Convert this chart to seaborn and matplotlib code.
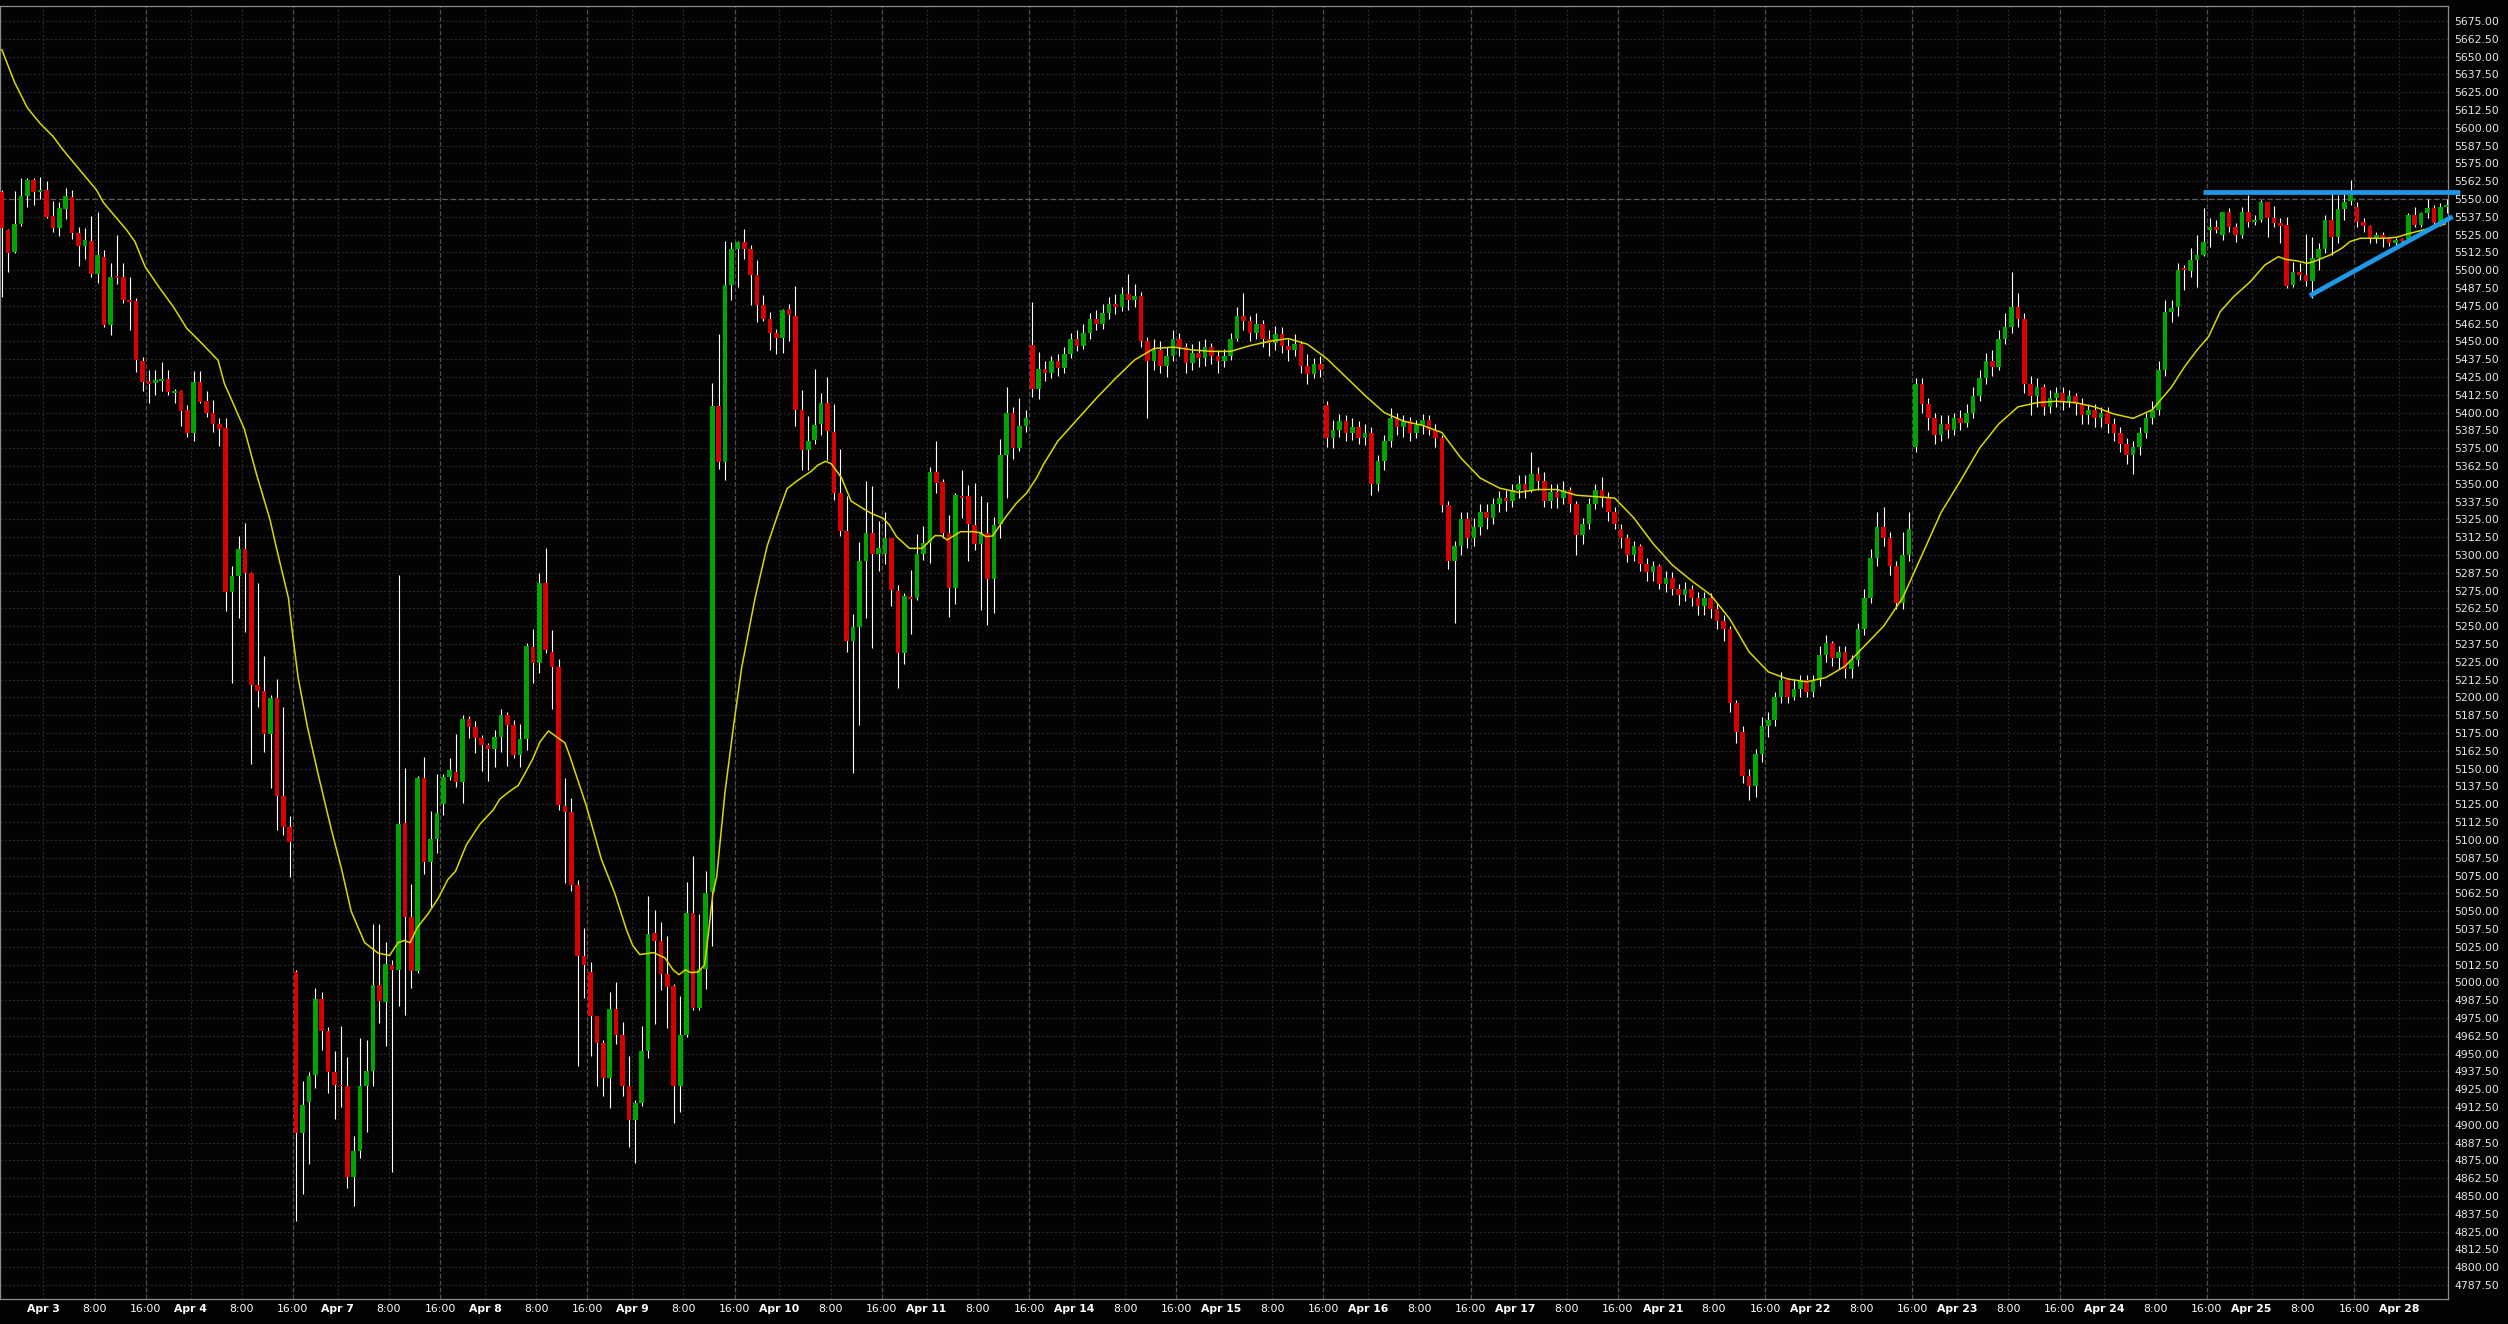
import numpy as np
import pandas as pd
import seaborn as sns
import matplotlib
matplotlib.use("Agg")
import matplotlib.pyplot as plt

# =============================
# DADOS (candles de 1 hora, CT)
# =============================

# bloco 1: primeiro candle = Apr 2 17:00 (candles 0..162)
o1 = [5555.2, 5528.3, 5513.0, 5532.7, 5552.3, 5563.4, 5555.2, 5556.3, 5538.1, 5529.9,
      5543.2, 5551.2, 5525.9, 5517.2, 5520.5, 5497.6, 5509.3, 5461.5, 5495.9, 5495.2,
      5479.1, 5478.4, 5436.3, 5422.2, 5420.8, 5422.4, 5423.6, 5414.0, 5415.2, 5401.9,
      5385.9, 5421.5, 5408.2, 5399.8, 5392.0, 5389.3, 5274.4, 5285.5, 5304.1, 5287.5,
      5209.0, 5204.3, 5174.6, 5199.5, 5131.0, 5109.2, 5007.3, 4894.0, 4915.8, 4934.8,
      4988.3, 4965.7, 4936.8, 4928.0, 4926.9, 4863.5, 4881.3, 4926.9, 4937.6, 4998.2,
      4986.4, 5012.2, 5008.4, 5111.9, 5045.8, 5007.8, 5143.6, 5084.7, 5100.5, 5125.2,
      5144.4, 5148.0, 5140.8, 5184.6, 5179.6, 5171.6, 5166.9, 5164.1, 5172.1, 5187.7,
      5180.8, 5159.7, 5170.8, 5235.5, 5224.4, 5280.4, 5231.6, 5221.7, 5123.8, 5119.3,
      5068.5, 5018.6, 5007.3, 4976.3, 4957.1, 4932.6, 4981.4, 4963.0, 4927.5, 4903.5,
      4915.6, 4951.7, 5034.7, 5029.3, 5005.9, 4997.5, 4926.9, 4963.0, 5048.8, 4982.0,
      5009.3, 5063.7, 5404.3, 5365.2, 5489.9, 5515.0, 5519.6, 5515.0, 5496.8, 5475.9,
      5465.4, 5455.6, 5452.1, 5472.4, 5467.9, 5401.8, 5373.5, 5380.8, 5392.0, 5406.7,
      5386.1, 5343.8, 5317.0, 5239.4, 5249.5, 5296.0, 5315.2, 5300.5, 5300.8, 5312.2,
      5274.8, 5231.0, 5270.6, 5270.1, 5300.8, 5308.2, 5358.1, 5351.1, 5315.3, 5276.6,
      5341.5, 5341.5, 5321.1, 5307.8, 5315.3, 5283.2, 5321.8, 5370.3, 5399.5, 5375.4,
      5390.6, 5447.5, 5416.6]
h1 = [5556.3, 5528.9, 5555.6, 5564.5, 5564.5, 5564.5, 5565.7, 5562.6, 5548.6, 5548.1,
      5558.0, 5556.3, 5530.6, 5529.4, 5538.1, 5540.9, 5514.2, 5504.8, 5524.7, 5504.8,
      5495.0, 5480.5, 5438.8, 5429.9, 5429.9, 5435.6, 5429.9, 5416.4, 5415.9, 5405.4,
      5429.2, 5429.2, 5415.2, 5408.9, 5396.3, 5396.4, 5292.2, 5313.2, 5322.4, 5288.0,
      5280.4, 5228.8, 5201.5, 5213.0, 5193.2, 5116.7, 5008.9, 4930.9, 4936.8, 4996.2,
      4993.5, 4968.5, 4951.9, 4969.3, 4947.9, 4892.4, 4960.6, 4959.8, 5041.0, 5041.0,
      5028.6, 5015.6, 5286.0, 5150.2, 5068.9, 5145.2, 5158.5, 5120.2, 5146.0, 5146.0,
      5157.7, 5174.4, 5187.4, 5186.9, 5183.5, 5173.5, 5168.3, 5177.2, 5191.6, 5189.6,
      5184.1, 5181.3, 5238.2, 5248.0, 5287.4, 5304.9, 5247.1, 5226.8, 5143.6, 5129.5,
      5072.2, 5038.4, 5014.4, 4976.3, 4959.4, 4993.2, 5000.3, 4972.1, 4948.6, 4917.6,
      4969.2, 5060.9, 5051.1, 5042.6, 5032.7, 4998.9, 4990.4, 5070.8, 5088.6, 5048.2,
      5077.9, 5420.7, 5454.9, 5520.6, 5519.6, 5520.6, 5529.0, 5517.8, 5507.3, 5482.9,
      5470.6, 5458.4, 5472.4, 5476.6, 5488.8, 5415.8, 5397.3, 5430.5, 5413.7, 5425.2,
      5406.0, 5374.6, 5341.4, 5258.6, 5309.2, 5351.9, 5348.4, 5323.9, 5330.2, 5312.2,
      5279.0, 5273.6, 5289.5, 5314.8, 5320.4, 5362.1, 5380.1, 5353.4, 5328.1, 5343.3,
      5359.7, 5349.2, 5350.4, 5341.5, 5337.5, 5326.5, 5381.3, 5417.8, 5403.7, 5410.1,
      5401.9, 5477.9, 5442.8]
l1 = [5481.4, 5499.0, 5512.3, 5531.1, 5544.6, 5545.8, 5550.0, 5536.4, 5527.1, 5524.0,
      5536.0, 5521.9, 5502.9, 5507.9, 5495.5, 5491.3, 5460.4, 5454.5, 5490.3, 5477.2,
      5458.0, 5428.8, 5415.2, 5407.0, 5412.4, 5415.4, 5412.4, 5406.5, 5390.6, 5383.1,
      5380.3, 5407.0, 5397.2, 5386.6, 5376.8, 5260.9, 5210.2, 5255.8, 5245.9, 5153.6,
      5193.2, 5161.9, 5136.1, 5107.2, 5103.2, 5074.3, 4832.6, 4851.6, 4872.2, 4925.7,
      4952.7, 4922.2, 4903.9, 4912.2, 4855.6, 4842.9, 4876.6, 4895.2, 4926.9, 4971.3,
      4955.0, 4866.8, 4983.4, 4977.3, 4996.1, 5006.4, 5075.8, 5052.8, 5091.1, 5117.5,
      5141.9, 5136.9, 5125.8, 5171.6, 5161.3, 5148.5, 5141.1, 5151.3, 5161.9, 5152.2,
      5157.7, 5151.3, 5163.3, 5210.5, 5217.4, 5231.3, 5192.1, 5120.7, 5069.4, 5064.3,
      4941.0, 4989.0, 4948.6, 4926.9, 4919.9, 4912.0, 4956.5, 4919.9, 4884.6, 4873.3,
      4913.4, 4947.2, 4970.7, 4994.6, 4967.8, 4901.5, 4909.2, 4961.6, 4980.5, 4980.5,
      4995.2, 5025.2, 5360.6, 5352.6, 5479.4, 5488.1, 5508.0, 5475.9, 5463.7, 5464.0,
      5443.8, 5441.0, 5442.0, 5450.4, 5390.3, 5359.9, 5359.9, 5378.1, 5384.4, 5366.9,
      5338.6, 5313.4, 5232.0, 5146.8, 5180.7, 5255.8, 5234.9, 5289.0, 5293.7, 5264.5,
      5206.9, 5223.3, 5244.3, 5268.5, 5296.5, 5294.2, 5343.8, 5311.8, 5256.8, 5265.6,
      5325.8, 5295.8, 5303.6, 5261.4, 5250.9, 5259.6, 5312.2, 5339.8, 5367.5, 5373.1,
      5386.6, 5411.2, 5409.6]
c1 = [5529.4, 5512.3, 5532.5, 5552.1, 5563.4, 5555.2, 5556.3, 5537.6, 5529.9, 5543.7,
      5552.1, 5526.4, 5517.2, 5521.2, 5497.6, 5510.7, 5461.5, 5495.2, 5494.8, 5479.3,
      5477.9, 5437.2, 5421.7, 5420.3, 5423.2, 5423.6, 5414.5, 5415.4, 5401.2, 5385.9,
      5421.5, 5407.5, 5399.8, 5392.0, 5388.5, 5274.4, 5285.5, 5304.1, 5287.5, 5209.0,
      5204.3, 5174.6, 5199.5, 5131.0, 5109.2, 5098.5, 4894.4, 4914.2, 4934.0, 4988.3,
      4965.7, 4936.8, 4927.7, 4926.9, 4863.5, 4881.3, 4926.9, 4937.6, 4998.2, 4987.1,
      5012.8, 5008.4, 5111.1, 5045.8, 5007.8, 5143.6, 5084.7, 5100.5, 5118.9, 5144.4,
      5149.1, 5140.8, 5184.6, 5179.6, 5171.6, 5166.6, 5164.1, 5172.1, 5187.7, 5180.8,
      5159.7, 5170.8, 5236.0, 5224.4, 5280.4, 5233.0, 5221.7, 5124.4, 5119.3, 5068.5,
      5018.6, 5012.4, 4976.3, 4957.1, 4932.6, 4981.4, 4963.0, 4927.5, 4903.5, 4915.6,
      4951.7, 5033.6, 5029.3, 5005.9, 4996.6, 4926.9, 4963.0, 5048.8, 4982.0, 5009.3,
      5062.9, 5404.3, 5365.2, 5489.9, 5515.0, 5519.6, 5515.0, 5496.8, 5475.9, 5465.4,
      5455.6, 5452.1, 5471.7, 5468.2, 5401.8, 5373.5, 5379.8, 5391.3, 5406.7, 5386.8,
      5343.8, 5317.0, 5239.4, 5249.5, 5296.0, 5315.2, 5300.5, 5304.7, 5312.2, 5275.5,
      5231.5, 5271.3, 5269.4, 5300.5, 5308.2, 5358.1, 5350.8, 5315.7, 5277.1, 5342.2,
      5340.3, 5321.8, 5307.8, 5315.3, 5283.2, 5321.1, 5370.3, 5399.5, 5375.4, 5390.6,
      5396.5, 5416.4, 5430.7]

# bloco do meio: candles 163..337 (Apr 11 ~10:00 -> Apr 24 ~10:00)
o_meio = [5430.7, 5427.6, 5436, 5431, 5441, 5452, 5447, 5456, 5466, 5462,
          5470, 5476, 5474, 5483, 5479, 5482, 5450, 5436, 5444, 5433,
          5440, 5452, 5446, 5435, 5442, 5438, 5446, 5440, 5436, 5440,
          5452, 5468, 5464, 5456, 5462, 5452, 5449, 5455, 5447, 5444,
          5448, 5433, 5427, 5434, 5405, 5382, 5388, 5394, 5386, 5390,
          5382, 5386, 5350, 5366, 5380, 5396, 5390, 5394, 5386, 5391,
          5395, 5388, 5382, 5335, 5296, 5306, 5325, 5312, 5320, 5330,
          5326, 5336, 5340, 5338, 5346, 5350, 5346, 5357, 5352, 5338,
          5344, 5340, 5346, 5336, 5314, 5322, 5336, 5346, 5340, 5330,
          5318, 5312, 5300, 5306, 5294, 5288, 5292, 5280, 5284, 5276,
          5272, 5276, 5270, 5264, 5270, 5262, 5254, 5248, 5196, 5176,
          5145, 5138, 5160, 5180, 5184, 5200, 5212, 5200, 5206, 5212,
          5204, 5212, 5230, 5238, 5228, 5232, 5220, 5226, 5248, 5270,
          5298, 5320, 5312, 5292, 5266, 5300, 5376, 5420, 5406, 5396,
          5384, 5392, 5388, 5396, 5393, 5400, 5412, 5424, 5436, 5432,
          5452, 5460, 5474, 5466, 5420, 5412, 5418, 5404, 5410, 5414,
          5408, 5412, 5406, 5398, 5402, 5396, 5400, 5392, 5386, 5378,
          5370, 5376, 5386, 5396, 5402]
h_meio = [5436, 5440, 5441, 5446, 5456, 5458, 5462, 5470, 5472, 5476,
          5481, 5483, 5488, 5497, 5490, 5485, 5453, 5452, 5450, 5446,
          5458, 5456, 5449, 5448, 5450, 5452, 5449, 5444, 5445, 5456,
          5474, 5484, 5468, 5470, 5465, 5458, 5461, 5460, 5452, 5455,
          5450, 5441, 5438, 5440, 5408, 5395, 5399, 5398, 5396, 5394,
          5392, 5390, 5370, 5384, 5403, 5400, 5398, 5397, 5395, 5399,
          5398, 5392, 5384, 5338, 5310, 5330, 5330, 5326, 5336, 5336,
          5340, 5345, 5346, 5350, 5356, 5356, 5372, 5362, 5358, 5350,
          5350, 5352, 5348, 5338, 5326, 5340, 5350, 5355, 5344, 5334,
          5322, 5315, 5310, 5308, 5298, 5296, 5294, 5289, 5288, 5280,
          5281, 5279, 5274, 5274, 5273, 5266, 5258, 5250, 5198, 5180,
          5150, 5164, 5186, 5190, 5204, 5218, 5214, 5212, 5216, 5216,
          5216, 5236, 5244, 5240, 5236, 5236, 5230, 5252, 5276, 5304,
          5330, 5334, 5316, 5296, 5316, 5330, 5424, 5424, 5410, 5400,
          5398, 5398, 5400, 5402, 5406, 5418, 5430, 5442, 5444, 5458,
          5470, 5499, 5484, 5470, 5426, 5424, 5420, 5416, 5418, 5418,
          5416, 5414, 5410, 5406, 5406, 5404, 5404, 5396, 5390, 5382,
          5380, 5390, 5400, 5408, 5436]
l_meio = [5422, 5424, 5426, 5428, 5438, 5443, 5445, 5452, 5458, 5459,
          5466, 5469, 5471, 5472, 5474, 5446, 5396, 5430, 5428, 5425,
          5436, 5440, 5428, 5430, 5432, 5433, 5434, 5428, 5432, 5437,
          5450, 5458, 5450, 5452, 5446, 5440, 5444, 5442, 5436, 5440,
          5428, 5420, 5424, 5425, 5376, 5375, 5383, 5380, 5381, 5378,
          5377, 5342, 5345, 5360, 5376, 5384, 5383, 5380, 5382, 5385,
          5384, 5376, 5330, 5290, 5252, 5300, 5305, 5306, 5314, 5318,
          5322, 5330, 5331, 5334, 5340, 5340, 5344, 5346, 5334, 5333,
          5333, 5336, 5330, 5300, 5308, 5318, 5332, 5334, 5324, 5318,
          5305, 5295, 5296, 5289, 5282, 5282, 5276, 5274, 5272, 5265,
          5268, 5264, 5258, 5258, 5256, 5248, 5240, 5190, 5168, 5140,
          5128, 5130, 5155, 5172, 5180, 5196, 5196, 5198, 5200, 5200,
          5200, 5208, 5225, 5222, 5220, 5214, 5214, 5222, 5244, 5266,
          5292, 5306, 5286, 5262, 5262, 5296, 5372, 5400, 5388, 5378,
          5380, 5382, 5384, 5388, 5390, 5396, 5408, 5420, 5426, 5430,
          5448, 5456, 5460, 5414, 5398, 5404, 5398, 5400, 5404, 5402,
          5404, 5398, 5392, 5392, 5390, 5390, 5386, 5380, 5372, 5364,
          5357, 5370, 5382, 5392, 5398]
c_meio = [5427.6, 5436, 5431, 5441, 5452, 5447, 5456, 5466, 5462, 5470,
          5476, 5474, 5483, 5479, 5482, 5450, 5436, 5444, 5433, 5440,
          5452, 5446, 5435, 5442, 5438, 5446, 5440, 5436, 5440, 5452,
          5468, 5464, 5456, 5462, 5452, 5449, 5455, 5447, 5444, 5448,
          5433, 5427, 5434, 5430, 5382, 5388, 5394, 5386, 5390, 5382,
          5386, 5350, 5366, 5380, 5396, 5390, 5394, 5386, 5391, 5395,
          5388, 5382, 5335, 5296, 5306, 5325, 5312, 5320, 5330, 5326,
          5336, 5340, 5338, 5346, 5350, 5346, 5357, 5352, 5338, 5344,
          5340, 5346, 5336, 5314, 5322, 5336, 5346, 5340, 5330, 5322,
          5312, 5300, 5306, 5294, 5288, 5292, 5280, 5284, 5276, 5272,
          5276, 5270, 5264, 5270, 5262, 5254, 5248, 5196, 5176, 5145,
          5138, 5160, 5180, 5184, 5200, 5212, 5200, 5206, 5212, 5204,
          5212, 5230, 5238, 5228, 5232, 5220, 5226, 5248, 5270, 5298,
          5320, 5312, 5292, 5266, 5300, 5318, 5420, 5406, 5396, 5384,
          5392, 5388, 5396, 5393, 5400, 5412, 5424, 5436, 5432, 5452,
          5460, 5474, 5466, 5420, 5412, 5418, 5404, 5410, 5414, 5408,
          5412, 5406, 5398, 5402, 5396, 5400, 5392, 5386, 5378, 5370,
          5376, 5386, 5396, 5402, 5430]

# bloco 2: candles 338..382 (Apr 24 ~11:00 -> Apr 28 07:00)
o2 = [5430.0, 5470.4, 5474.4, 5501.3, 5499.7, 5507.2, 5510.7, 5528.3, 5530.1, 5524.7,
      5541.1, 5530.1, 5524.7, 5541.1, 5534.1, 5535.3, 5548.1, 5536.9, 5532.9, 5531.8,
      5489.6, 5499.0, 5496.7, 5492.4, 5508.4, 5514.7, 5535.3, 5523.6, 5542.8, 5548.8,
      5544.6, 5534.1, 5531.1, 5522.4, 5524.7, 5522.4, 5518.9, 5521.7, 5521.7, 5538.8,
      5531.8, 5540.4, 5543.9, 5532.9, 5544.6]
h2 = [5479.1, 5479.1, 5504.8, 5503.6, 5515.4, 5524.7, 5543.5, 5536.4, 5535.3, 5541.1,
      5543.5, 5532.9, 5544.6, 5552.8, 5538.8, 5549.3, 5548.1, 5545.1, 5536.4, 5537.6,
      5506.0, 5504.8, 5525.4, 5523.1, 5519.4, 5538.8, 5554.0, 5552.8, 5554.0, 5563.4,
      5548.1, 5536.4, 5531.8, 5527.1, 5527.1, 5523.1, 5522.4, 5522.4, 5539.9, 5544.6,
      5541.1, 5549.8, 5545.8, 5547.4, 5549.8]
l2 = [5426.0, 5463.9, 5468.1, 5486.1, 5495.5, 5488.4, 5510.0, 5516.5, 5525.9, 5521.2,
      5527.1, 5520.1, 5522.4, 5530.6, 5531.8, 5534.1, 5523.1, 5530.1, 5519.4, 5487.3,
      5488.4, 5493.1, 5488.9, 5480.3, 5500.2, 5511.9, 5510.7, 5518.9, 5535.3, 5545.8,
      5530.1, 5527.1, 5519.4, 5518.9, 5516.5, 5517.0, 5517.7, 5520.1, 5520.8, 5530.1,
      5530.6, 5536.4, 5532.5, 5531.1, 5539.9]
c2 = [5470.4, 5473.2, 5500.2, 5500.2, 5507.2, 5510.7, 5519.8, 5530.1, 5528.3, 5541.1,
      5530.6, 5524.7, 5541.1, 5534.1, 5535.3, 5548.1, 5536.9, 5533.4, 5531.1, 5488.9,
      5499.0, 5496.7, 5492.4, 5508.4, 5514.7, 5535.3, 5523.6, 5542.8, 5548.1, 5552.8,
      5534.1, 5531.1, 5522.4, 5524.7, 5522.4, 5519.4, 5521.2, 5520.8, 5538.8, 5531.8,
      5540.4, 5543.5, 5533.4, 5544.6, 5545.8]

# media movel (indice do candle, valor)
ma_k = [0, 2, 4, 6, 8, 9.6, 14.8, 15.9, 19.5, 20.8, 22.4, 24.7, 26.8, 28.9, 31.5, 33.8,
        34.8, 35.9, 37.9, 39.8, 41.9, 42.9, 44.8, 45.4, 46.3, 47.8, 49.4, 51.5, 53.1,
        54.6, 56.7, 58.8, 60.6, 61.9, 62.9, 63.8, 64.9, 66.6, 68.2, 69.7, 70.9, 72.6,
        74.7, 76.8, 77.8, 79.1, 80.7, 82.0, 82.9, 84.1, 85.4, 88.0, 88.8, 91.3, 93.7,
        95.8, 97.6, 98.6, 99.7, 101.8, 103.6, 104.9, 105.8, 106.8, 107.7, 108.8, 109.8,
        110.4, 111.1, 111.7, 113.0, 114.3, 115.6, 117.7, 119.6, 121.3, 122.7, 124.2,
        126.5, 127.5, 128.7, 129.6, 131.2, 132.7, 134.3, 135.9, 137.0, 137.7, 138.7,
        139.8, 141.8, 143.8, 145.8, 146.8, 147.7, 149.8, 151.8, 152.8, 153.8, 154.8,
        156.9, 158.5, 160.1, 161.7, 162.7, 165, 168, 171, 174, 177, 180, 183, 186,
        189, 192, 195, 198, 201, 204, 207, 210, 213, 216, 219, 222, 225, 228, 231,
        234, 237, 240, 243, 246, 249, 252, 255, 258, 261, 264, 267, 270, 273, 276,
        279, 282, 285, 288, 291, 294, 297, 300, 303, 306, 309, 312, 315, 318, 321,
        324, 327, 330, 333, 336, 339, 341, 343.0, 344.8, 346.6, 348.7, 351.3, 353.6,
        355.7, 356.8, 358.6, 360.2, 361.2, 363.8, 365.6, 366.9, 368.5, 372.1, 374.2,
        375.3, 377.3, 379.4, 381.8]
ma_v = [5655, 5632, 5614, 5603, 5594, 5584.4, 5556.3, 5547.4, 5528.3, 5520.1, 5502.5,
        5487.3, 5474.4, 5459.2, 5447.5, 5436.7, 5420.2, 5409.1, 5388.5, 5356.8, 5325.1,
        5305.3, 5269.7, 5245.9, 5214.2, 5178.5, 5146.8, 5107.2, 5079.5, 5049.8, 5027.9,
        5020.5, 5018.9, 5027.8, 5029.4, 5027.8, 5038.3, 5048.1, 5059.1, 5072.2, 5078.0,
        5096.6, 5111.0, 5121.1, 5128.6, 5133.3, 5138.3, 5148.8, 5156.3, 5168.8, 5176.5,
        5168.1, 5158.3, 5124.4, 5086.3, 5062.3, 5037.0, 5025.7, 5019.5, 5020.9, 5017.2,
        5008.7, 5005.4, 5008.7, 5006.8, 5007.3, 5012.1, 5034.0, 5062.3, 5074.1, 5133.5,
        5178.9, 5220.9, 5269.8, 5306.5, 5329.2, 5346.6, 5351.9, 5358.9, 5363.1, 5365.8,
        5364.1, 5354.3, 5337.9, 5333.4, 5329.2, 5327.1, 5325.8, 5321.1, 5312.9, 5304.7,
        5304.7, 5313.6, 5313.6, 5310.6, 5316.4, 5316.4, 5315.7, 5312.9, 5313.4, 5327.0,
        5336.3, 5343.4, 5354.3, 5363.2, 5380, 5395, 5410, 5424, 5437, 5445, 5446, 5444,
        5443, 5443, 5447, 5450, 5452, 5448, 5438, 5425, 5412, 5400, 5394, 5391, 5386,
        5368, 5354, 5347, 5344, 5346, 5346, 5342, 5341, 5340, 5326, 5308, 5293, 5282,
        5272, 5255, 5232, 5218, 5213, 5211, 5214, 5222, 5236, 5250, 5270, 5300, 5330,
        5352, 5375, 5392, 5404, 5407, 5408, 5407, 5404, 5399, 5396, 5402, 5418, 5432,
        5444.0, 5453.4, 5470.9, 5481.4, 5491.9, 5503.7, 5509.5, 5507.6, 5506.5, 5504.8,
        5506.0, 5510.7, 5515.4, 5520.1, 5522.4, 5522.4, 5523.1, 5524.7, 5527.1, 5529.4,
        5532.5]

# linhas de tendencia desenhadas (azul)
resist_k = [343.9, 384.0]
resist_v = [5554.7, 5554.7]
suporte_k = [360.6, 382.9]
suporte_v = [5482.1, 5537.6]

dias = ["Apr 3", "Apr 4", "Apr 7", "Apr 8", "Apr 9", "Apr 10", "Apr 11", "Apr 14",
        "Apr 15", "Apr 16", "Apr 17", "Apr 21", "Apr 22", "Apr 23", "Apr 24", "Apr 25",
        "Apr 28"]
linha_preco = 5550.0

# =============================
# MONTANDO OS DADOS
# =============================

df = pd.DataFrame({
    "open": o1 + o_meio + o2,
    "high": h1 + h_meio + h2,
    "low": l1 + l_meio + l2,
    "close": c1 + c_meio + c2,
})
df["k"] = np.arange(len(df))
df["alta"] = df["close"] >= df["open"]
df["base"] = df[["open", "close"]].min(axis=1)
df["corpo"] = (df["close"] - df["open"]).abs().clip(lower=1.3)

ma = pd.DataFrame({"k": ma_k, "v": ma_v})

# =============================
# PLOT
# =============================

sns.set_theme(style="dark")
plt.rcParams["font.family"] = ["DejaVu Sans"]
plt.rcParams["lines.scale_dashes"] = False

fundo = "#030303"
fig = plt.figure(figsize=(25.08, 13.24), dpi=100, facecolor=fundo)
ax = fig.add_axes([0.0, 0.0189, 0.9761, 0.9766], facecolor=fundo)

# grade
y_ticks = np.arange(4787.5, 5675.1, 12.5)
for y in y_ticks:
    ax.axhline(y, color="#262626", lw=0.8, ls=(0, (1.5, 1.5)), zorder=0)

x_pos, x_lab, x_bold = [], [], []
for d, nome in enumerate(dias):
    for desl, txt, negrito in [(6.5, nome, True), (14.5, "8:00", False), (22.5, "16:00", False)]:
        pos = desl + 23 * d
        if pos < 382:
            x_pos.append(pos)
            x_lab.append(txt)
            x_bold.append(negrito)

for pos, txt in zip(x_pos, x_lab):
    if txt == "16:00":
        ax.axvline(pos, color="#4e4e4e", lw=0.9, ls=(0, (3.5, 1.5)), zorder=0)
    else:
        ax.axvline(pos, color="#2a2a2a", lw=0.8, ls=(0, (1.5, 1.5)), zorder=0)

ax.axhline(linha_preco, color="#5e5e5e", lw=0.9, ls=(0, (4, 2)), zorder=1)

# candles
ax.vlines(df["k"], df["low"], df["high"], colors="white", lw=0.8, zorder=2)
cores = np.where(df["alta"], "#00a400", "#d60000")
ax.bar(df["k"], df["corpo"], bottom=df["base"], width=0.72, color=cores,
       linewidth=0, zorder=3)

# media movel
sns.lineplot(data=ma, x="k", y="v", estimator=None, sort=False, ax=ax,
             color="#d9d900", lw=1.1, zorder=4, legend=False)

# linhas azuis
ax.plot(resist_k, resist_v, color="#1e98e8", lw=3.4, solid_capstyle="butt",
        clip_on=False, zorder=5)
ax.plot(suporte_k, suporte_v, color="#1e98e8", lw=3.4, solid_capstyle="butt",
        clip_on=False, zorder=5)

ax.set_xlim(-0.27, 382.2)
ax.set_ylim(4777.7, 5685.5)

ax.yaxis.tick_right()
ax.set_yticks(y_ticks)
ax.set_yticklabels([f"{v:.2f}" for v in y_ticks])
ax.tick_params(axis="y", length=0, pad=4.5, labelsize=7.8, labelcolor="#e6e6e6")

ax.set_xticks(x_pos)
ax.set_xticklabels(x_lab)
ax.tick_params(axis="x", length=0, pad=3.5, labelsize=7.8, labelcolor="white")
for lab, negrito in zip(ax.get_xticklabels(), x_bold):
    if negrito:
        lab.set_fontweight("bold")

ax.grid(False)
ax.set_xlabel("")
ax.set_ylabel("")
for lado in ["top", "bottom", "left", "right"]:
    ax.spines[lado].set_color("#8c8c8c")
    ax.spines[lado].set_linewidth(0.9)

fig.savefig("out.png", dpi=100, facecolor=fundo)
